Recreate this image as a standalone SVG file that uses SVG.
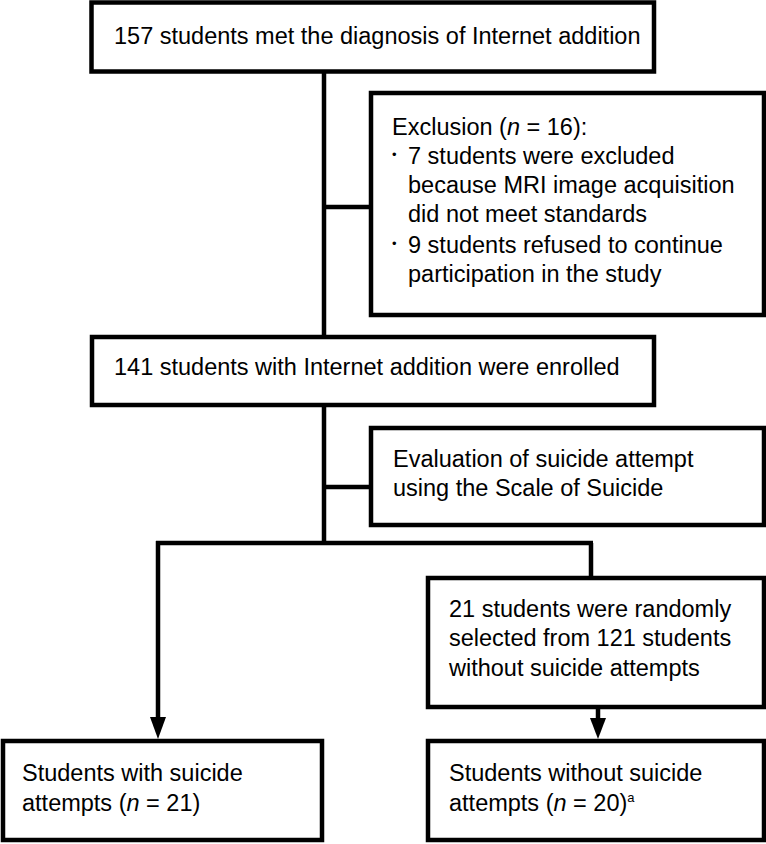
<svg xmlns="http://www.w3.org/2000/svg" width="766" height="844" viewBox="0 0 766 844">
<style>
.box{fill:#fff;stroke:#000;stroke-width:4.5}
.ln{fill:none;stroke:#000;stroke-width:4.5}
text{font-family:"Liberation Sans",Arial,sans-serif;font-size:23.5px;fill:#000}
.bul{font-size:13px}
</style>
<rect width="766" height="844" fill="#fff"/>
<g id="connectors">
<path class="ln" d="M324 72 V543"/>
<path class="ln" d="M324 207 H371"/>
<path class="ln" d="M324 487 H371"/>
<path class="ln" d="M156 543 H593"/>
<path class="ln" d="M158 541 V719"/>
<polygon points="150,717 166,717 158,739"/>
<path class="ln" d="M591 543 V578"/>
<path class="ln" d="M598 707 V720"/>
<polygon points="590,718 606,718 598,739"/>
</g>
<g id="n1"><rect class="box" x="91.5" y="2.5" width="562.5" height="69"/>
<text x="114" y="44">157 students met the diagnosis of Internet addition</text></g>
<g id="n2"><rect class="box" x="371" y="93" width="393" height="222"/>
<text x="392" y="135">Exclusion (<tspan font-style="italic">n</tspan> = 16):</text>
<text x="392" y="164"><tspan class="bul" dy="-5">•</tspan><tspan x="408" dy="5">7 students were excluded</tspan></text>
<text x="408" y="193">because MRI image acquisition</text>
<text x="408" y="222">did not meet standards</text>
<text x="392" y="253"><tspan class="bul" dy="-5">•</tspan><tspan x="408" dy="5">9 students refused to continue</tspan></text>
<text x="408" y="282">participation in the study</text></g>
<g id="n3"><rect class="box" x="92" y="337" width="562" height="68"/>
<text x="114" y="375">141 students with Internet addition were enrolled</text></g>
<g id="n4"><rect class="box" x="371" y="428" width="393" height="97"/>
<text x="393" y="467">Evaluation of suicide attempt</text>
<text x="393" y="496">using the Scale of Suicide</text></g>
<g id="n5"><rect class="box" x="428" y="578" width="336" height="129"/>
<text x="449" y="617">21 students were randomly</text>
<text x="449" y="646">selected from 121 students</text>
<text x="449" y="676">without suicide attempts</text></g>
<g id="n6"><rect class="box" x="3" y="741" width="319" height="99"/>
<text x="22" y="781">Students with suicide</text>
<text x="22" y="811">attempts (<tspan font-style="italic">n</tspan> = 21)</text></g>
<g id="n7"><rect class="box" x="428" y="741" width="336" height="99"/>
<text x="449" y="781">Students without suicide</text>
<text x="449" y="811">attempts (<tspan font-style="italic">n</tspan> = 20)<tspan font-size="13" dy="-9">a</tspan></text></g>
</svg>
